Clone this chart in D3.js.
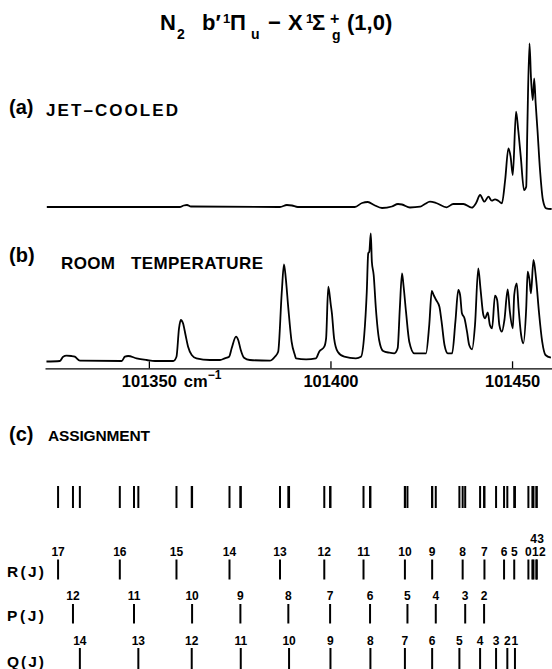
<!DOCTYPE html>
<html>
<head>
<meta charset="utf-8">
<script src="https://cdn.jsdelivr.net/npm/d3@7"></script>
<style>
body { margin: 0; background: #fff; }
svg { display: block; font-family: "Liberation Sans", Arial, sans-serif; font-weight: bold; }
</style>
</head>
<body>
<script>
// ---- data (wavenumber in cm-1, relative intensity) ----
var tickValues = [101350, 101400, 101450];

// (a) jet-cooled trace
var jetCooled = [
  [101321.9, 0], [101358.5, 0], [101359.6, 1.5], [101360.5, 2], [101361.6, 0.5],
  [101386.1, 0], [101388.0, 2], [101389.4, 1.5], [101391.0, 0],
  [101406.7, 0], [101408.7, 4], [101410.3, 5], [101412.0, 2], [101414.2, -1],
  [101416.9, 0.5], [101418.6, 3], [101419.7, 2.5], [101421.9, -0.5], [101424.7, 0.3],
  [101426.0, 3], [101427.4, 5.3], [101429.1, 4], [101432.0, -0.3], [101433.8, 3],
  [101436.6, 3], [101438.9, -0.7], [101440.1, 4], [101441.2, 12], [101442.4, 5.3],
  [101443.5, 10.3], [101444.4, 6.3], [101445.3, 7.7], [101446.2, 6.3], [101447.2, 3.7],
  [101448.1, 27], [101449.0, 58.7], [101449.6, 50.3], [101450.2, 32], [101451.1, 95.3],
  [101451.7, 77], [101452.4, 50.3], [101453.3, 17], [101453.9, 20.3], [101454.2, 77],
  [101454.8, 163.7], [101455.2, 130.3], [101455.7, 107], [101456.1, 128.7], [101456.5, 103.7],
  [101457.0, 77], [101457.7, 37], [101458.5, 7], [101459.4, -1.3], [101460.9, -2]
];

// (b) room temperature trace
var roomTemp = [
  [101321.8, 0], [101325.5, 0.5], [101326.4, 4.8], [101327.3, 5.8], [101328.7, 5.5],
  [101329.6, 4.8], [101331.0, 0.8], [101342.5, 0.5], [101343.4, 4.8], [101344.3, 5.5],
  [101346.6, 3.2], [101349.4, 1.5], [101351.7, 0.5], [101356.7, 0.5], [101357.6, 4.8],
  [101358.3, 33.2], [101358.8, 41.5], [101359.4, 38.2], [101360.1, 26.5], [101360.8, 14.8],
  [101361.8, 6.5], [101363.1, 3.2], [101366.8, 1.5], [101369.6, 1.5], [101370.9, 3.2],
  [101372.1, 4.8], [101372.8, 13.2], [101374.0, 24.8], [101374.6, 21.5], [101375.3, 11.5],
  [101376.2, 3.8], [101377.8, 1.5], [101383.3, 0.8], [101384.7, 4.8], [101385.6, 9.8],
  [101386.6, 69.8], [101387.2, 97.2], [101387.7, 83.2], [101388.4, 53.2], [101389.3, 19.8],
  [101390.2, 6.5], [101390.5, 3.2], [101393.3, 2.2], [101396.0, 3.2], [101396.9, 9.8],
  [101398.3, 14.8], [101398.8, 23.2], [101399.4, 74.8], [101400.1, 56.5], [101400.4, 48.2],
  [101401.0, 23.2], [101402.0, 9.8], [101403.8, 4.8], [101407.0, 3.2], [101408.4, 4.8],
  [101409.3, 26.5], [101410.0, 69.8], [101410.4, 108.2], [101410.7, 109.8], [101411.1, 128.2],
  [101411.4, 99.8], [101411.9, 86.5], [101412.5, 53.2], [101413.4, 21.5], [101414.5, 10.5],
  [101416.2, 8.8], [101417.6, 8.2], [101418.5, 13.2], [101419.1, 53.2], [101419.7, 88.2],
  [101420.1, 76.5], [101420.8, 49.8], [101421.7, 19.8], [101423.1, 8.2], [101426.3, 8.2],
  [101427.2, 36.5], [101427.9, 70.5], [101428.4, 66.5], [101429.1, 61.5], [101430.0, 54.8],
  [101430.6, 39.8], [101431.4, 16.5], [101432.3, 8.2], [101433.5, 8.2], [101434.4, 39.8],
  [101435.2, 71.5], [101435.7, 66.5], [101436.2, 48.2], [101436.9, 43.2], [101437.6, 29.8],
  [101438.2, 16.5], [101439.0, 12.2], [101439.8, 36.5], [101440.7, 93.2], [101441.3, 73.2],
  [101442.1, 46.5], [101442.6, 43.2], [101443.3, 49.2], [101443.9, 36.5], [101444.5, 33.2],
  [101445.3, 65.8], [101445.9, 61.5], [101446.5, 36.5], [101447.2, 29.8], [101447.9, 41.5],
  [101448.8, 72.2], [101449.4, 49.8], [101450.2, 33.2], [101450.6, 66.5], [101451.3, 78.2],
  [101451.8, 53.2], [101452.5, 26.5], [101453.1, 18.2], [101453.9, 53.2], [101454.3, 89.8],
  [101454.8, 81.5], [101455.2, 68.2], [101455.9, 101.5], [101456.6, 83.2], [101457.4, 49.8],
  [101458.3, 19.8], [101459.2, 6.5], [101460.7, 3.8]
];

// (c) line assignments
var rJ   = [17, 16, 15, 14, 13, 12, 11, 10, 9, 8, 7, 6, 5, 4, 3, 2, 1, 0];
var rPos = [101325.0, 101342.0, 101357.6, 101372.2, 101386.1, 101398.3, 101409.1, 101420.5, 101428.0,
            101436.4, 101442.4, 101447.8, 101450.6, 101455.9, 101456.7, 101456.8, 101455.6, 101454.5];
var pJ   = [12, 11, 10, 9, 8, 7, 6, 5, 4, 3, 2];
var pPos = [101329.1, 101345.9, 101361.9, 101375.2, 101388.4, 101399.9, 101410.9, 101421.2, 101429.0,
            101437.1, 101442.3];
var qJ   = [14, 13, 12, 11, 10, 9, 8, 7, 6, 5, 4, 3, 2, 1];
var qPos = [101331.0, 101347.1, 101361.8, 101375.3, 101388.6, 101400.0, 101411.0, 101420.5, 101428.0,
            101435.5, 101441.2, 101445.6, 101448.7, 101450.8];

// ---- layout ----
var width = 552, height = 669;
var svg = d3.select("body").append("svg")
    .attr("width", width)
    .attr("height", height);

var x = d3.scaleLinear().domain([101321.4, 101461.0]).range([45, 552]);
var yJet = d3.scaleLinear().domain([0, 165]).range([207, 42]);
var yRoom = d3.scaleLinear().domain([0, 128.2]).range([361.5, 233.3]);

function drawTrace(data, y) {
    var line = d3.line()
        .x(function(d) { return x(d[0]); })
        .y(function(d) { return y(d[1]); })
        .curve(d3.curveMonotoneX);
    svg.append("path")
        .attr("d", line(data))
        .attr("fill", "none")
        .attr("stroke", "#000")
        .attr("stroke-width", 1.8)
        .attr("stroke-linejoin", "round");
}

drawTrace(jetCooled, yJet);
drawTrace(roomTemp, yRoom);

//axis under (b), ticks point up
var axis = svg.append("g")
    .attr("transform", "translate(0,368.3)")
    .call(d3.axisBottom(x)
        .tickValues(tickValues)
        .tickFormat(d3.format("d"))
        .tickSizeInner(-7)
        .tickSizeOuter(0)
        .tickPadding(7));
axis.attr("font-family", null).attr("font-size", 16.5);
axis.select(".domain").attr("stroke-width", 1.3);
axis.selectAll(".tick line").attr("stroke-width", 1.3);

var unit = svg.append("text").attr("x", x(tickValues[0]) + 35).attr("y", 387).attr("font-size", 16.5);
unit.append("tspan").text("cm");
unit.append("tspan").attr("dy", -8).attr("font-size", 12).text("\u22121");

// title
var title = svg.append("text").attr("font-size", 22);
[
    {t: "N", x: 160, y: 30},
    {t: "2", x: 177, y: 39, s: 14},
    {t: "b\u2032", x: 202, y: 30},
    {t: "1", x: 223, y: 22.5, s: 13},
    {t: "\u03A0", x: 230, y: 30},
    {t: "u", x: 251, y: 38.5, s: 14},
    {t: "\u2212", x: 268, y: 30},
    {t: "X", x: 288, y: 30},
    {t: "1", x: 306, y: 22.5, s: 13},
    {t: "\u03A3", x: 312, y: 30},
    {t: "+", x: 330, y: 24, s: 16},
    {t: "g", x: 332, y: 40, s: 14},
    {t: "(1,0)", x: 347, y: 30}
].forEach(function(p) {
    title.append("tspan").attr("x", p.x).attr("y", p.y)
        .attr("font-size", p.s || null).text(p.t);
});

// panel labels
function label(t, px, py, size, len) {
    var el = svg.append("text").attr("x", px).attr("y", py).attr("font-size", size).text(t);
    if (len) el.attr("textLength", len).attr("lengthAdjust", "spacing");
}
label("(a)", 9, 114, 20);
label("JET\u2013COOLED", 46, 116, 17, 132);
label("(b)", 9, 262, 20);
label("ROOM", 61, 268.5, 17, 54);
label("TEMPERATURE", 131, 268.5, 17, 132);
label("(c)", 9, 441, 20);
label("ASSIGNMENT", 48, 441, 15.5, 102);

// (c) stick spectrum, all branches together
svg.append("g").selectAll("line")
    .data(rPos.concat(pPos, qPos))
    .enter().append("line")
    .attr("x1", function(d) { return x(d); })
    .attr("x2", function(d) { return x(d); })
    .attr("y1", 486).attr("y2", 508)
    .attr("stroke", "#000").attr("stroke-width", 2);

var rows = [
    {name: "R(J)", J: rJ, pos: rPos, y1: 559.5, y2: 579.5, labelY: 555.5, nameY: 576.5},
    {name: "P(J)", J: pJ, pos: pPos, y1: 604, y2: 623.5, labelY: 600, nameY: 620.7},
    {name: "Q(J)", J: qJ, pos: qPos, y1: 648, y2: 669, labelY: 645, nameY: 666.5}
];

var digitW = 6.7;
rows.forEach(function(row) {
    label(row.name, 7, row.nameY, 15.5, 37);

    var g = svg.append("g");
    g.selectAll("line").data(row.pos).enter().append("line")
        .attr("x1", function(d) { return x(d); })
        .attr("x2", function(d) { return x(d); })
        .attr("y1", row.y1).attr("y2", row.y2)
        .attr("stroke", "#000").attr("stroke-width", 2);

    // labels: a line sitting on a lower-J line gets its label one level up,
    // then labels on one level are pushed apart so they don't overlap
    var items = row.J.map(function(j, i) {
        var px = x(row.pos[i]);
        var stacked = row.J.some(function(k, m) { return k < j && Math.abs(x(row.pos[m]) - px) < 1.6; });
        return {J: j, x: px, level: stacked ? 1 : 0};
    });
    [0, 1].forEach(function(lv) {
        var right = -Infinity;
        items.filter(function(d) { return d.level === lv; })
            .sort(function(a, b) { return a.x - b.x; })
            .forEach(function(d) {
                var w = String(d.J).length * digitW;
                if (d.x - w / 2 < right + 0.3) d.x = right + 0.3 + w / 2;
                right = d.x + w / 2;
            });
    });
    g.selectAll("text").data(items).enter().append("text")
        .attr("x", function(d) { return d.x; })
        .attr("y", function(d) { return row.labelY - d.level * 12.5; })
        .attr("text-anchor", "middle")
        .attr("font-size", 12)
        .text(function(d) { return d.J; });
});
</script>
</body>
</html>
